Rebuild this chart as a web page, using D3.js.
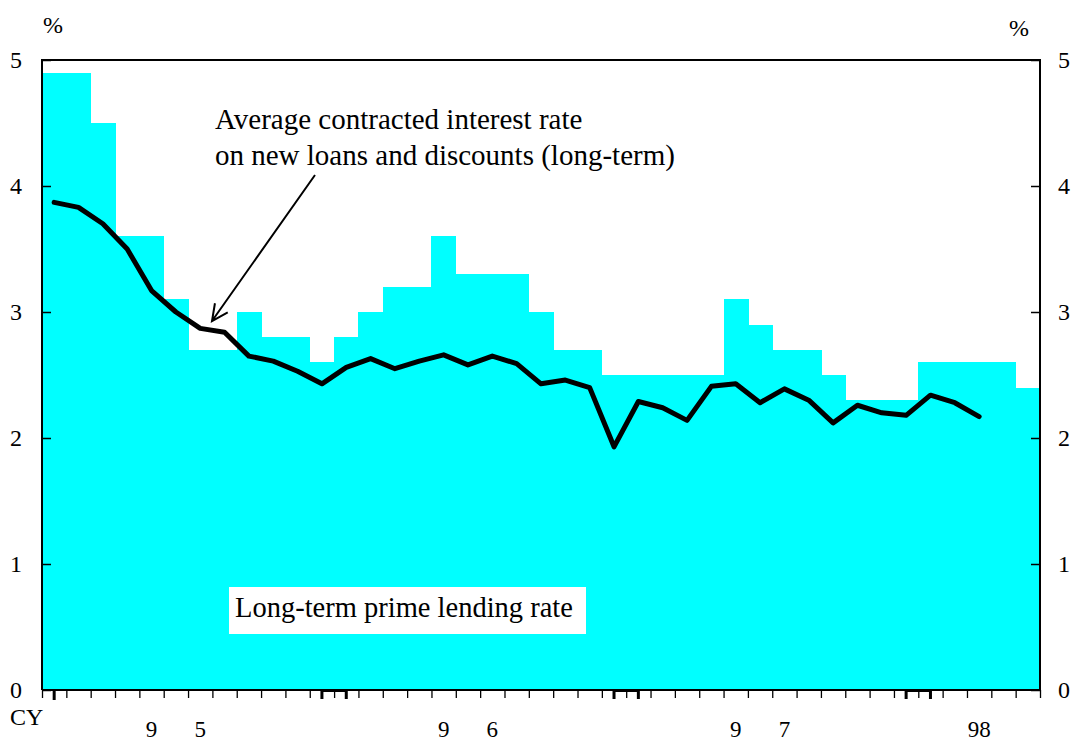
<!DOCTYPE html>
<html>
<head>
<meta charset="utf-8">
<script src="https://cdn.jsdelivr.net/npm/d3@7/dist/d3.min.js"></script>
<style>
  html, body { margin: 0; padding: 0; background: #fff; }
  svg { display: block; }
  text { font-family: "Liberation Serif", "Times New Roman", serif; fill: #000; }
</style>
</head>
<body>
<svg id="chart" width="1074" height="742"></svg>
<script>
// ---- Data ----
const months = [
  "1995-01","1995-02","1995-03","1995-04","1995-05","1995-06","1995-07","1995-08","1995-09","1995-10","1995-11","1995-12",
  "1996-01","1996-02","1996-03","1996-04","1996-05","1996-06","1996-07","1996-08","1996-09","1996-10","1996-11","1996-12",
  "1997-01","1997-02","1997-03","1997-04","1997-05","1997-06","1997-07","1997-08","1997-09","1997-10","1997-11","1997-12",
  "1998-01","1998-02","1998-03","1998-04","1998-05"
];
// Long-term prime lending rate (%), monthly
const primeRate = [
  4.9, 4.9, 4.5, 3.6, 3.6, 3.1, 2.7, 2.7, 3.0, 2.8, 2.8, 2.6,
  2.8, 3.0, 3.2, 3.2, 3.6, 3.3, 3.3, 3.3, 3.0, 2.7, 2.7, 2.5,
  2.5, 2.5, 2.5, 2.5, 3.1, 2.9, 2.7, 2.7, 2.5, 2.3, 2.3, 2.3,
  2.6, 2.6, 2.6, 2.6, 2.4
];
// Average contracted interest rate on new loans and discounts (long-term), Jan 95 - Mar 98
const avgRate = [
  3.87, 3.83, 3.70, 3.50, 3.17, 3.00, 2.87, 2.84, 2.65, 2.61, 2.53, 2.43,
  2.56, 2.63, 2.55, 2.61, 2.66, 2.58, 2.65, 2.59, 2.43, 2.46, 2.40, 1.93,
  2.29, 2.24, 2.14, 2.41, 2.43, 2.28, 2.39, 2.30, 2.12, 2.26, 2.20, 2.18,
  2.34, 2.28, 2.17
];
const yTicks = [0, 1, 2, 3, 4, 5];
const yearLabelText = ["9", "5", "9", "6", "9", "7", "98"];
const yearLabelMonth = ["1995-05", "1995-07", "1996-05", "1996-07", "1997-05", "1997-07", "1998-03"];
const yearBrackets = [["1995-12", "1996-01"], ["1996-12", "1997-01"], ["1997-12", "1998-01"]];
const firstMonthMark = "1995-01";
const annotationLines = ["Average contracted interest rate", "on new loans and discounts (long-term)"];
const primeLabel = "Long-term prime lending rate";

// ---- Layout ----
const L = 42, R = 1040, T = 60, B = 690;
const svg = d3.select("#chart");

const x = d3.scaleBand().domain(months).range([L, R]).padding(0);
const xEdge = d3.scaleLinear().domain([0, months.length]).range([L, R]);
const y = d3.scaleLinear().domain([0, 5]).range([B, T]);
const xc = m => x(m) + x.bandwidth() / 2;

// bars (step columns)
svg.append("g").selectAll("rect")
  .data(months.map((m, i) => ({ m, v: primeRate[i] })))
  .join("rect")
  .attr("x", d => x(d.m))
  .attr("width", x.bandwidth() + 0.6)
  .attr("y", d => y(d.v))
  .attr("height", d => y(0) - y(d.v))
  .attr("fill", "#00ffff")
  .attr("shape-rendering", "crispEdges");

// label box
const lbl = svg.append("g");
lbl.append("rect").attr("x", 229).attr("y", 587).attr("width", 357).attr("height", 47).attr("fill", "#fff");
lbl.append("text").attr("x", 235).attr("y", 617).attr("font-size", 28.5).text(primeLabel);

// line
const line = d3.line()
  .x((d, i) => xc(months[i]))
  .y(d => y(d));
svg.append("path")
  .datum(avgRate)
  .attr("d", line)
  .attr("fill", "none")
  .attr("stroke", "#000")
  .attr("stroke-width", 5)
  .attr("stroke-linejoin", "round")
  .attr("stroke-linecap", "round");

// frame
svg.append("path")
  .attr("d", `M${L},${B} V${T} H${R} V${B}`)
  .attr("fill", "none").attr("stroke", "#000").attr("stroke-width", 2);

// y axes
const yl = svg.append("g").attr("transform", `translate(${L},0)`)
  .call(d3.axisLeft(y).tickValues(yTicks).tickFormat(d3.format("d")).tickSize(-9).tickPadding(20));
const yr = svg.append("g").attr("transform", `translate(${R},0)`)
  .call(d3.axisRight(y).tickValues(yTicks).tickFormat(d3.format("d")).tickSize(-9).tickPadding(18));
[yl, yr].forEach(g => {
  g.select(".domain").remove();
  g.selectAll(".tick line").attr("stroke", "#000").attr("stroke-width", 1.5);
  g.selectAll(".tick text").attr("font-size", 24).attr("font-family", "Liberation Serif, serif").attr("fill", "#000");
});

// x axis (month boundaries)
const xa = svg.append("g").attr("transform", `translate(0,${B})`)
  .call(d3.axisBottom(xEdge).tickValues(d3.range(0, months.length + 1)).tickFormat("").tickSize(8));
xa.select(".domain").attr("stroke", "#000").attr("stroke-width", 2).attr("d", `M${L},0H${R}`);
xa.selectAll(".tick line").attr("stroke", "#000").attr("stroke-width", 1.3);

// year brackets
const br = svg.append("g").attr("fill", "none").attr("stroke", "#000").attr("stroke-width", 3);
yearBrackets.forEach(([a, b]) => {
  br.append("path").attr("d", `M${xc(a)},${B + 9} V${B + 0.5} H${xc(b)} V${B + 9}`);
});
br.append("path").attr("d", `M${xc(firstMonthMark)},${B} V${B + 10}`);

// year labels
svg.append("g").selectAll("text")
  .data(yearLabelText.map((t, i) => ({ t, m: yearLabelMonth[i] })))
  .join("text")
  .attr("x", d => xc(d.m))
  .attr("y", 737)
  .attr("text-anchor", "middle")
  .attr("font-size", 23)
  .text(d => d.t);
svg.append("text").attr("x", 10).attr("y", 725).attr("font-size", 24).text("CY");

// % labels
svg.append("text").attr("x", 43).attr("y", 33).attr("font-size", 24).text("%");
svg.append("text").attr("x", 1009).attr("y", 36).attr("font-size", 24).text("%");

// annotation
const ann = svg.append("g");
annotationLines.forEach((t, i) => {
  ann.append("text").attr("x", 215).attr("y", 129 + i * 36).attr("font-size", 29).text(t);
});
// arrow
const x0 = 315, y0 = 175, x1 = 212, y1 = 321;
const ang = Math.atan2(y0 - y1, x0 - x1);
const hl = 18, ha = 0.45;
ann.append("path")
  .attr("d", `M${x0},${y0} L${x1},${y1} M${x1 + hl * Math.cos(ang - ha)},${y1 + hl * Math.sin(ang - ha)} L${x1},${y1} L${x1 + hl * Math.cos(ang + ha)},${y1 + hl * Math.sin(ang + ha)}`)
  .attr("fill", "none").attr("stroke", "#000").attr("stroke-width", 2);
</script>
</body>
</html>
